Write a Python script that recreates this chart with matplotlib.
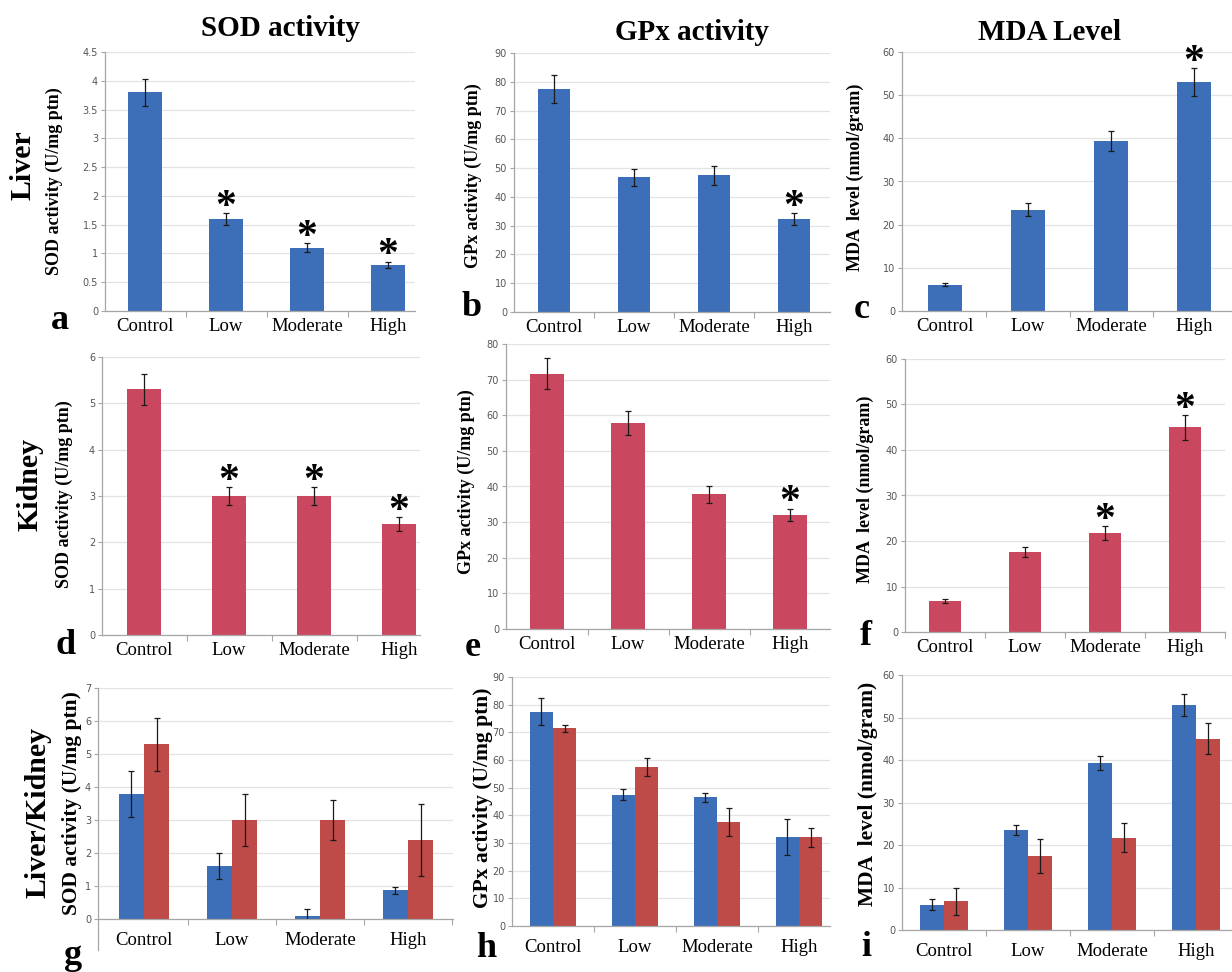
import numpy as np
import matplotlib
matplotlib.use('Agg')
import matplotlib.pyplot as plt
from matplotlib.ticker import FormatStrFormatter, FixedLocator

W, H = 1232, 972

groups = ['Control', 'Low', 'Moderate', 'High']

# Liver (blue)
sod_liver = [3.8, 1.6, 1.1, 0.8]
sod_liver_err = [0.23, 0.1, 0.08, 0.06]
gpx_liver = [77.5, 46.8, 47.5, 32.3]
gpx_liver_err = [4.8, 3.0, 3.2, 2.0]
mda_liver = [6.1, 23.5, 39.4, 53.0]
mda_liver_err = [0.4, 1.5, 2.4, 3.2]

# Kidney (red)
sod_kidney = [5.3, 3.0, 3.0, 2.4]
sod_kidney_err = [0.33, 0.2, 0.2, 0.15]
gpx_kidney = [71.7, 57.8, 37.8, 32.0]
gpx_kidney_err = [4.3, 3.4, 2.3, 1.8]
mda_kidney = [6.8, 17.6, 21.8, 45.0]
mda_kidney_err = [0.4, 1.1, 1.5, 2.7]

# Liver / Kidney comparison
sod_cmp_liver = [3.8, 1.6, 0.1, 0.87]
sod_cmp_liver_err = [0.7, 0.4, 0.2, 0.1]
sod_cmp_kidney = [5.3, 3.0, 3.0, 2.4]
sod_cmp_kidney_err = [0.8, 0.8, 0.6, 1.1]
gpx_cmp_liver = [77.5, 47.5, 46.5, 32.0]
gpx_cmp_liver_err = [5.0, 2.0, 1.5, 6.5]
gpx_cmp_kidney = [71.5, 57.5, 37.5, 32.0]
gpx_cmp_kidney_err = [1.3, 3.3, 5.0, 3.3]
mda_cmp_liver = [6.0, 23.5, 39.3, 53.0]
mda_cmp_liver_err = [1.2, 1.2, 1.6, 2.6]
mda_cmp_kidney = [6.8, 17.5, 21.7, 45.0]
mda_cmp_kidney_err = [3.2, 4.0, 3.4, 3.6]

# significance marks
sig_a = [0, 1, 1, 1]
sig_b = [0, 0, 0, 1]
sig_c = [0, 0, 0, 1]
sig_d = [0, 1, 1, 1]
sig_e = [0, 0, 0, 1]
sig_f = [0, 0, 1, 1]

col_titles = ['SOD activity', 'GPx activity', 'MDA Level']
row_titles = ['Liver', 'Kidney', 'Liver/Kidney']
ylabels = ['SOD activity (U/mg ptn)', 'GPx activity (U/mg ptn)', 'MDA  level (nmol/gram)']
ymax = {'a': 4.5, 'b': 90, 'c': 60, 'd': 6, 'e': 80, 'f': 60, 'g': 7, 'h': 90, 'i': 60}
ystep = {'a': 0.5, 'b': 10, 'c': 10, 'd': 1, 'e': 10, 'f': 10, 'g': 1, 'h': 10, 'i': 10}

BLUE = '#3d6fb8'
PINK = '#c9485f'
RED = '#be4b48'
SERIF = 'Liberation Serif'

# layout in pixels: left, top, right, bottom, first-category centre, category spacing
box = {
    'a': (105, 52, 415, 311, 145, 81),
    'b': (514, 53, 830, 312, 554, 80),
    'c': (902, 52, 1232, 311, 945, 83),
    'd': (102, 357, 420, 635, 144, 85),
    'e': (506, 344, 830, 629, 547, 81),
    'f': (905, 359, 1225, 632, 945, 80),
    'g': (98, 688, 453, 919, 144, 88),
    'h': (512, 677, 830, 926, 553, 82),
    'i': (902, 675, 1232, 930, 944, 84),
}
ylab_pos = {'a': (54, 181), 'b': (473, 176), 'c': (855, 177),
            'd': (64, 494), 'e': (466, 482), 'f': (865, 489),
            'g': (72, 803), 'h': (483, 798), 'i': (868, 794)}
letter_pos = {'a': (60, 320), 'b': (472, 307), 'c': (862, 310),
              'd': (66, 645), 'e': (473, 647), 'f': (866, 636),
              'g': (73, 955), 'h': (486, 948), 'i': (866, 947)}

fig = plt.figure(figsize=(W / 100, H / 100), dpi=100)


def make_axes(key):
    l, t, r, b, c0, sp = box[key]
    ax = fig.add_axes([l / W, 1 - b / H, (r - l) / W, (b - t) / H])
    ax.set_facecolor('none')
    ax.set_xlim(-(c0 - l) / sp, (r - c0) / sp)
    ax.set_ylim(0, ymax[key])
    ax.set_yticks(np.arange(0, ymax[key] + ystep[key] / 2, ystep[key]))
    ax.yaxis.set_major_formatter(FormatStrFormatter('%g'))
    ax.grid(axis='y', color='#e3e3e3', lw=0.9)
    ax.set_axisbelow(True)
    for s in ['top', 'right']:
        ax.spines[s].set_visible(False)
    for s in ['left', 'bottom']:
        ax.spines[s].set_color('#a6a6a6')
        ax.spines[s].set_linewidth(0.9)
    ax.tick_params(axis='y', labelsize=7, colors='#a6a6a6', labelcolor='#555555', length=3, width=0.8, pad=2)
    ax.set_xticks(range(len(groups)))
    ax.set_xticklabels(groups, fontsize=13.5, family=SERIF)
    ax.xaxis.set_minor_locator(FixedLocator([0.5, 1.5, 2.5, 3.5]))
    ax.tick_params(axis='x', which='major', length=0, pad=5)
    ax.tick_params(axis='x', which='minor', length=4, colors='#a6a6a6', width=0.8)
    return ax


def single(key, vals, errs, color, sig, ylabel, ysize):
    ax = make_axes(key)
    x = np.arange(len(groups))
    ax.bar(x, vals, width=0.41, color=color, zorder=2)
    ax.errorbar(x, vals, yerr=errs, fmt='none', ecolor='#1a1a1a', elinewidth=0.9, capsize=2.5, capthick=0.9, zorder=3)
    for xi, v, e, s in zip(x, vals, errs, sig):
        if s:
            ax.annotate('*', (xi, v + e), xytext=(0, -10), textcoords='offset points',
                        ha='center', va='bottom', fontsize=30, fontweight='bold', family=SERIF)
    px, py = ylab_pos[key]
    fig.text(px / W, 1 - py / H, ylabel, rotation=90, ha='center', va='center',
             fontsize=ysize, fontweight='bold', family=SERIF)
    return ax


def double(key, v1, e1, v2, e2, ylabel, ysize):
    ax = make_axes(key)
    x = np.arange(len(groups))
    w = 0.285
    ax.bar(x - w / 2, v1, width=w, color=BLUE, zorder=2)
    ax.bar(x + w / 2, v2, width=w, color=RED, zorder=2)
    ax.errorbar(x - w / 2, v1, yerr=e1, fmt='none', ecolor='#1a1a1a', elinewidth=0.9, capsize=2.5, capthick=0.9, zorder=3)
    ax.errorbar(x + w / 2, v2, yerr=e2, fmt='none', ecolor='#1a1a1a', elinewidth=0.9, capsize=2.5, capthick=0.9, zorder=3)
    ax.tick_params(axis='x', which='major', pad=9)
    px, py = ylab_pos[key]
    fig.text(px / W, 1 - py / H, ylabel, rotation=90, ha='center', va='center',
             fontsize=ysize, fontweight='bold', family=SERIF)
    return ax


single('a', sod_liver, sod_liver_err, BLUE, sig_a, ylabels[0], 13)
single('b', gpx_liver, gpx_liver_err, BLUE, sig_b, ylabels[1], 13)
single('c', mda_liver, mda_liver_err, BLUE, sig_c, ylabels[2], 13)
single('d', sod_kidney, sod_kidney_err, PINK, sig_d, ylabels[0], 13)
single('e', gpx_kidney, gpx_kidney_err, PINK, sig_e, ylabels[1], 13)
single('f', mda_kidney, mda_kidney_err, PINK, sig_f, ylabels[2], 13)
ag = double('g', sod_cmp_liver, sod_cmp_liver_err, sod_cmp_kidney, sod_cmp_kidney_err, ylabels[0], 15.5)
ag.spines['left'].set_bounds(-0.95, 7)
double('h', gpx_cmp_liver, gpx_cmp_liver_err, gpx_cmp_kidney, gpx_cmp_kidney_err, ylabels[1], 15.5)
double('i', mda_cmp_liver, mda_cmp_liver_err, mda_cmp_kidney, mda_cmp_kidney_err, ylabels[2], 15.5)

# column titles
for t, (x, y) in zip(col_titles, [(280, 28), (692, 33), (1050, 33)]):
    fig.text(x / W, 1 - y / H, t, ha='center', va='center', fontsize=21, fontweight='bold', family=SERIF)

# row titles
for t, (x, y) in zip(row_titles, [(23, 165), (30, 484), (38, 812)]):
    fig.text(x / W, 1 - y / H, t, ha='center', va='center', rotation=90, fontsize=21.5,
             fontweight='bold', family=SERIF)

# panel letters
for k, (x, y) in letter_pos.items():
    fig.text(x / W, 1 - y / H, k, ha='center', va='center', fontsize=26, fontweight='bold', family=SERIF)

plt.savefig('out.png', dpi=100)
